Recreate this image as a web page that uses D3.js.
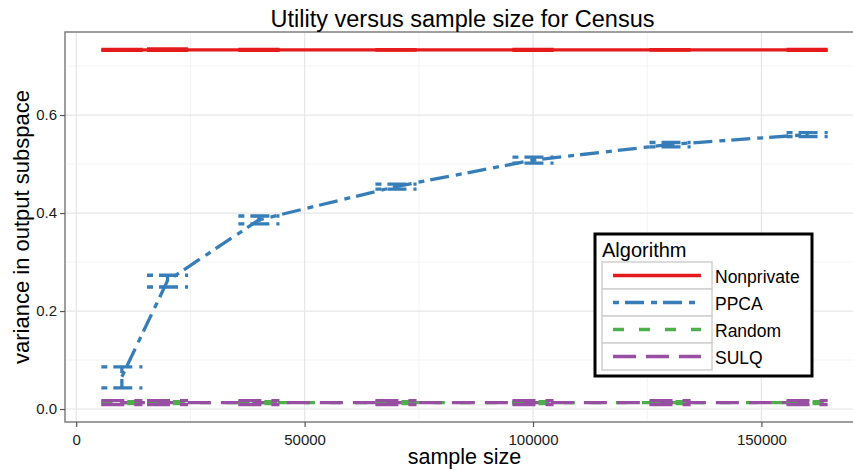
<!DOCTYPE html>
<html>
<head>
<meta charset="utf-8">
<script src="https://cdn.jsdelivr.net/npm/d3@7"></script>
<style>
  body { margin: 0; background: #fff; }
  text { font-family: "Liberation Sans", Arial, sans-serif; }
</style>
</head>
<body>
<div id="chart"></div>
<script>
// sample sizes
const sampleSizes = [10000, 20000, 40000, 70000, 100000, 130000, 160000];

// mean and error bar bounds
const nonprivateMean = [0.733, 0.733, 0.733, 0.733, 0.733, 0.733, 0.733];
const nonprivateMin = [0.732, 0.732, 0.732, 0.733, 0.732, 0.733, 0.732];
const nonprivateMax = [0.734, 0.735, 0.734, 0.733, 0.734, 0.733, 0.734];

const ppcaMean = [0.066, 0.262, 0.386, 0.454, 0.508, 0.540, 0.560];
const ppcaMin = [0.043, 0.249, 0.378, 0.449, 0.502, 0.535, 0.556];
const ppcaMax = [0.086, 0.273, 0.394, 0.459, 0.514, 0.544, 0.564];

const randomMean = [0.013, 0.013, 0.013, 0.013, 0.013, 0.013, 0.013];
const randomMin = [0.011, 0.011, 0.011, 0.011, 0.011, 0.011, 0.011];
const randomMax = [0.015, 0.015, 0.015, 0.015, 0.015, 0.015, 0.015];

const sulqMean = [0.013, 0.013, 0.013, 0.013, 0.013, 0.013, 0.013];
const sulqMin = [0.009, 0.009, 0.009, 0.009, 0.009, 0.009, 0.009];
const sulqMax = [0.017, 0.017, 0.017, 0.017, 0.017, 0.017, 0.017];

const algorithms = ["Nonprivate", "PPCA", "Random", "SULQ"];
const colors = ["#e41a1c", "#377eb8", "#4daf4a", "#984ea3"];
const dashes = [null, "6,6,19,7", "11,15", "23,10"];

const xTicks = [0, 50000, 100000, 150000];
const yTicks = [0, 0.2, 0.4, 0.6];

const series = [
  { mean: nonprivateMean, lo: nonprivateMin, hi: nonprivateMax },
  { mean: ppcaMean, lo: ppcaMin, hi: ppcaMax },
  { mean: randomMean, lo: randomMin, hi: randomMax },
  { mean: sulqMean, lo: sulqMin, hi: sulqMax },
].map((s, i) => ({
  name: algorithms[i],
  color: colors[i],
  dash: dashes[i],
  values: sampleSizes.map((x, j) => ({ x: x, y: s.mean[j], lo: s.lo[j], hi: s.hi[j] })),
}));

const width = 853;
const height = 470;
const panel = { left: 65, right: 864, top: 32, bottom: 422 };

const x = d3.scaleLinear().domain([-2450, 172450]).range([panel.left, panel.right]);
const y = d3.scaleLinear().domain([-0.0265, 0.7695]).range([panel.bottom, panel.top]);

const svg = d3
  .select("#chart")
  .append("svg")
  .attr("width", width)
  .attr("height", height);

svg.append("clipPath").attr("id", "clip")
  .append("rect")
  .attr("x", panel.left)
  .attr("y", panel.top)
  .attr("width", panel.right - panel.left)
  .attr("height", panel.bottom - panel.top);

// grid
const grid = svg.append("g");
const xMinor = [25000, 75000, 125000];
const yMinor = [0.1, 0.3, 0.5, 0.7];
grid.selectAll(".xminor").data(xMinor).join("line")
  .attr("x1", (d) => x(d)).attr("x2", (d) => x(d))
  .attr("y1", panel.top).attr("y2", panel.bottom)
  .attr("stroke", "#f3f3f3").attr("stroke-width", 1);
grid.selectAll(".yminor").data(yMinor).join("line")
  .attr("y1", (d) => y(d)).attr("y2", (d) => y(d))
  .attr("x1", panel.left).attr("x2", panel.right)
  .attr("stroke", "#f3f3f3").attr("stroke-width", 1);
grid.selectAll(".xmajor").data(xTicks).join("line")
  .attr("x1", (d) => x(d)).attr("x2", (d) => x(d))
  .attr("y1", panel.top).attr("y2", panel.bottom)
  .attr("stroke", "#e6e6e6").attr("stroke-width", 1.2);
grid.selectAll(".ymajor").data(yTicks).join("line")
  .attr("y1", (d) => y(d)).attr("y2", (d) => y(d))
  .attr("x1", panel.left).attr("x2", panel.right)
  .attr("stroke", "#e6e6e6").attr("stroke-width", 1.2);

// lines
const plot = svg.append("g").attr("clip-path", "url(#clip)");
const line = d3.line().x((d) => x(d.x)).y((d) => y(d.y));

plot.selectAll(".series").data(series).join("path")
  .attr("d", (d) => line(d.values))
  .attr("fill", "none")
  .attr("stroke", (d) => d.color)
  .attr("stroke-width", 3.3)
  .attr("stroke-dasharray", (d) => d.dash);

// error bars: each piece is its own path, so the dash restarts on each
const halfW = 4500;
series.forEach((s) => {
  const g = plot.append("g")
    .attr("fill", "none")
    .attr("stroke", s.color)
    .attr("stroke-width", 3.3)
    .attr("stroke-dasharray", s.dash);
  s.values.forEach((v) => {
    const segs = [
      [[v.x - halfW, v.hi], [v.x + halfW, v.hi]],
      [[v.x, v.hi], [v.x, v.lo]],
      [[v.x - halfW, v.lo], [v.x + halfW, v.lo]],
    ];
    segs.forEach((p) => {
      g.append("path").attr("d", d3.line().x((d) => x(d[0])).y((d) => y(d[1]))(p));
    });
  });
});

// panel border
svg.append("rect")
  .attr("x", panel.left).attr("y", panel.top)
  .attr("width", panel.right - panel.left)
  .attr("height", panel.bottom - panel.top)
  .attr("fill", "none")
  .attr("stroke", "#7f7f7f")
  .attr("stroke-width", 1.5);

// axes
const xAxis = svg.append("g")
  .attr("transform", `translate(0,${panel.bottom})`)
  .call(d3.axisBottom(x).tickValues(xTicks).tickFormat(d3.format("d")).tickSize(5).tickPadding(7));
const yAxis = svg.append("g")
  .attr("transform", `translate(${panel.left},0)`)
  .call(d3.axisLeft(y).tickValues(yTicks).tickFormat(d3.format(".1f")).tickSize(5).tickPadding(3));
[xAxis, yAxis].forEach((a) => {
  a.select(".domain").remove();
  a.selectAll(".tick line").attr("stroke", "#555").attr("stroke-width", 1.2);
  a.selectAll(".tick text")
    .attr("fill", "#1a1a1a")
    .style("font-size", "15px")
    .style("font-family", "'Liberation Sans', Arial, sans-serif");
});

// titles
const midX = (panel.left + panel.right) / 2;
svg.append("text")
  .attr("x", midX - 2).attr("y", 27)
  .attr("text-anchor", "middle")
  .style("font-size", "23.5px")
  .text("Utility versus sample size for Census");
svg.append("text")
  .attr("x", midX).attr("y", 464)
  .attr("text-anchor", "middle")
  .style("font-size", "21.5px")
  .text("sample size");
svg.append("text")
  .attr("transform", `translate(29,${(panel.top + panel.bottom) / 2}) rotate(-90)`)
  .attr("text-anchor", "middle")
  .style("font-size", "22px")
  .text("variance in output subspace");

// legend
const legend = svg.append("g").attr("transform", "translate(595,234)");
legend.append("rect")
  .attr("width", 217).attr("height", 142)
  .attr("fill", "#fff")
  .attr("stroke", "#000")
  .attr("stroke-width", 3);
legend.append("text")
  .attr("x", 7).attr("y", 22.5)
  .style("font-size", "20px")
  .text("Algorithm");
const rowH = 27;
const row = legend.selectAll(".row").data(series).join("g")
  .attr("transform", (d, i) => `translate(7,${28 + i * rowH})`);
row.append("rect")
  .attr("width", 110).attr("height", rowH)
  .attr("fill", "#fff")
  .attr("stroke", "#d0d0d0")
  .attr("stroke-width", 1.5);
row.append("line")
  .attr("x1", 11).attr("x2", 99)
  .attr("y1", rowH / 2).attr("y2", rowH / 2)
  .attr("stroke", (d) => d.color)
  .attr("stroke-width", 3.3)
  .attr("stroke-dasharray", (d) => d.dash);
row.append("text")
  .attr("x", 113).attr("y", rowH / 2 + 7)
  .style("font-size", "17.5px")
  .text((d) => d.name);
</script>
</body>
</html>
